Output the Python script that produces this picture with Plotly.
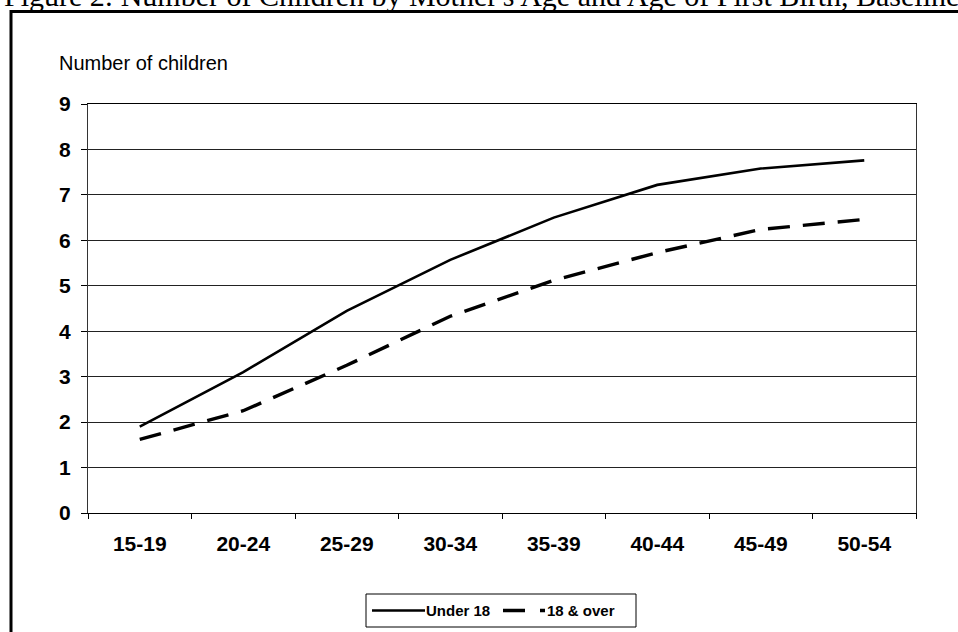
import plotly.graph_objects as go

# Mother's age groups and average number of children, by age at first birth
age_groups = ["15-19", "20-24", "25-29", "30-34", "35-39", "40-44", "45-49", "50-54"]
under_18 = [1.9, 3.1, 4.45, 5.57, 6.5, 7.22, 7.58, 7.76]
over_18 = [1.62, 2.25, 3.25, 4.33, 5.12, 5.73, 6.24, 6.46]

series_names = ["Under 18", "18 & over"]
y_ticks = list(range(0, 10))

title_text = "Figure 2: Number of Children by Mother's Age and Age of First Birth, Baseline"
y_caption = "Number of children"

W, H = 958, 632
L, R, T, B = 88, 916, 104, 513  # plot area in pixels


def px(x):
    return (x - L) / (R - L)


def py(y):
    return (B - y) / (B - T)


SANS = "Arial, Liberation Sans, sans-serif"
SERIF = "Times New Roman, Liberation Serif, serif"

fig = go.Figure()
fig.add_trace(go.Scatter(
    x=age_groups, y=under_18, name=series_names[0], mode="lines",
    line=dict(color="black", width=2.6), showlegend=False,
))
fig.add_trace(go.Scatter(
    x=age_groups, y=over_18, name=series_names[1], mode="lines",
    line=dict(color="black", width=3.4, dash="22px,13px"), showlegend=False,
))

shapes = [
    # outer frame around the chart
    dict(type="rect", xref="paper", yref="paper",
         x0=px(11), x1=px(990), y0=py(11.5), y1=py(700),
         line=dict(color="black", width=3)),
    # legend box
    dict(type="rect", xref="paper", yref="paper",
         x0=px(366), x1=px(636), y0=py(594), y1=py(627),
         line=dict(color="black", width=1), fillcolor="white"),
    dict(type="line", xref="paper", yref="paper",
         x0=px(372), x1=px(425), y0=py(610.5), y1=py(610.5),
         line=dict(color="black", width=2.6)),
    dict(type="line", xref="paper", yref="paper",
         x0=px(503), x1=px(545), y0=py(610.5), y1=py(610.5),
         line=dict(color="black", width=3.4, dash="22px,15px")),
]

annotations = [
    dict(text=title_text, xref="paper", yref="paper", x=px(2), y=py(14),
         xanchor="left", yanchor="bottom", showarrow=False,
         font=dict(family=SERIF, size=30, color="black")),
    dict(text=y_caption, xref="paper", yref="paper", x=px(57), y=py(76),
         xanchor="left", yanchor="bottom", showarrow=False,
         font=dict(family=SANS, size=20, color="black")),
    dict(text=series_names[0], xref="paper", yref="paper", x=px(424), y=py(610.5),
         xanchor="left", yanchor="middle", showarrow=False,
         font=dict(family=SANS, size=15, color="black", weight="bold")),
    dict(text=series_names[1], xref="paper", yref="paper", x=px(545), y=py(610.5),
         xanchor="left", yanchor="middle", showarrow=False,
         font=dict(family=SANS, size=15, color="black", weight="bold")),
]

fig.update_layout(
    width=W, height=H, autosize=False,
    margin=dict(l=L, r=W - R, t=T, b=H - B, pad=0),
    paper_bgcolor="white", plot_bgcolor="white",
    shapes=shapes, annotations=annotations,
    xaxis=dict(
        type="category", range=[-0.5, 7.5], tickson="boundaries",
        ticks="outside", ticklen=5, tickcolor="black", tickwidth=1,
        showline=True, linecolor="black", linewidth=1, mirror=True,
        showgrid=False, ticklabelstandoff=12,
        tickfont=dict(family=SANS, size=21, color="black", weight="bold"),
    ),
    yaxis=dict(
        range=[0, 9], tickvals=y_ticks, ticks="outside", ticklen=6,
        tickcolor="black", tickwidth=1,
        showline=True, linecolor="#333", linewidth=1, mirror=True,
        showgrid=True, gridcolor="#222", gridwidth=1, zeroline=False,
        ticklabelstandoff=6,
        tickfont=dict(family=SANS, size=21, color="black", weight="bold"),
    ),
)

fig.write_html("out.html")
